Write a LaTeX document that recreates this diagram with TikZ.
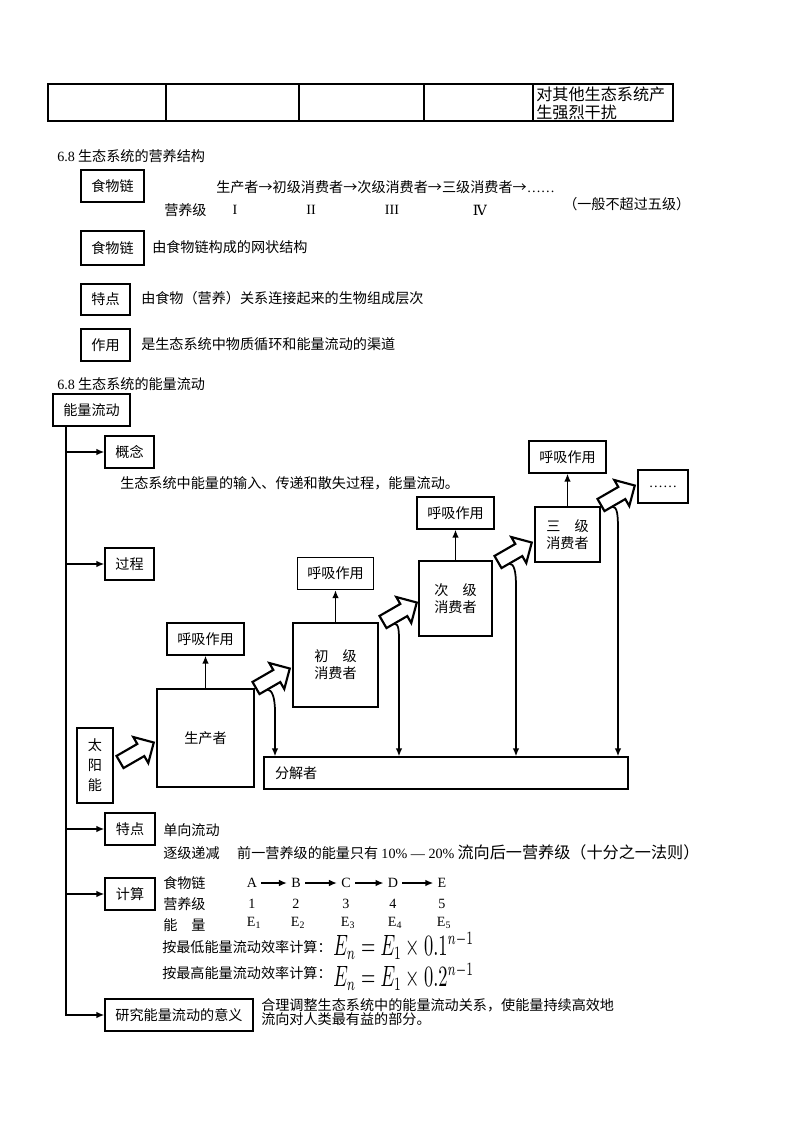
\documentclass[tikz,border=0pt]{standalone}
\usepackage{fontspec}
\usepackage{graphicx}
\setmainfont{Liberation Serif}
\newfontfamily\cjk{Noto Sans CJK SC}
\newfontfamily\dvserif{DejaVu Serif}
\usetikzlibrary{arrows.meta, calc}

\def\px{0.744pt}
\newcommand\hollowarrow[3]{%
  \begin{scope}[shift={(#2,#3)}, rotate=30]
    \draw[line width=1.6pt, fill=white] (0,-7) -- (24,-7) -- (24,-15) -- (39,0) -- (24,15) -- (24,7) -- (0,7) -- cycle;
    \coordinate (#1) at (9,7);
  \end{scope}}

\begin{document}
\begin{tikzpicture}[x=\px, y=-\px,
  every node/.style={font=\cjk\fontsize{10.5}{13}\selectfont, inner sep=0pt},
  box/.style={draw, line width=0.9pt},
  heavybox/.style={draw, line width=2pt, align=center, font=\cjk\fontsize{10.5}{12.7}\selectfont},
  dims/.style 2 args={minimum width=#1*\px, minimum height=#2*\px},
  txt/.style={anchor=west},
  lat/.style={font=\rmfamily\fontsize{10.5}{13}\selectfont},
  arr/.style={-{Latex[length=6pt,width=5pt]}},
  stem/.style={line width=1.3pt}]
\useasboundingbox (0,0) rectangle (800,1132);

\draw[line width=0.9pt] (48,84) rectangle (673,121);
\draw[line width=0.9pt] (166,84) -- (166,121) (299,84) -- (299,121) (424,84) -- (424,121) (533,84) -- (533,121);
\node[txt, align=left, font=\cjk\fontsize{12}{13.4}\selectfont] (cell) at (536,103) {对其他生态系统产\\生强烈干扰};

\node[txt] (head1) at (57,156) {{\rmfamily 6.8} 生态系统的营养结构};
\node[box, dims={63}{32}] (chain) at (112.5,186) {食物链};
\node[txt] (chaintext) at (216,187) {生产者→初级消费者→次级消费者→三级消费者→{\rmfamily ……}};
\node[txt] (levels) at (164,210) {营养级};
\node[lat] (lv1) at (235,210) {I};
\node[lat] (lv2) at (311,210) {II};
\node[lat] (lv3) at (392,210) {III};
\node[font=\dvserif\fontsize{10.5}{13}\selectfont] (lv4) at (480,210) {Ⅳ};
\node[txt] (limit) at (563,204) {（一般不超过五级）};
\node[box, dims={63}{34}] (web) at (112.5,248) {食物链};
\node[txt] (webtext) at (152,247) {由食物链构成的网状结构};
\node[box, dims={49}{31}] (traitA) at (105.5,299.5) {特点};
\node[txt] (traitAtext) at (141,298) {由食物（营养）关系连接起来的生物组成层次};
\node[box, dims={49}{32}] (role) at (105.5,345) {作用};
\node[txt] (roletext) at (141,344) {是生态系统中物质循环和能量流动的渠道};

\node[txt] (head2) at (57,384) {{\rmfamily 6.8} 生态系统的能量流动};
\node[box, dims={77}{32}] (flow) at (91.5,410) {能量流动};
\coordinate (trunk) at (66,426);
\node[box, dims={49}{32}] (concept) at (129.5,452) {概念};
\node[txt] (concepttext) at (120,483) {生态系统中能量的输入、传递和散失过程，能量流动。};
\node[box, dims={49}{32}] (process) at (129.5,564) {过程};
\node[box, dims={50}{32}] (traitB) at (130,829) {特点};
\node[box, dims={50}{32}] (calc) at (130,894) {计算};
\node[box, dims={148}{32}] (meaning) at (179,1015) {研究能量流动的意义};

\draw[stem, arr] (trunk) |- (meaning);
\draw[stem, arr] (trunk |- concept.west) -- (concept);
\draw[stem, arr] (trunk |- process.west) -- (process);
\draw[stem, arr] (trunk |- traitB.west) -- (traitB);
\draw[stem, arr] (trunk |- calc.west) -- (calc);

\node[heavybox, dims={36}{75}, font=\cjk\fontsize{10.5}{14.9}\selectfont] (sun) at (95,765.5) {太\\阳\\能};
\node[heavybox, dims={97}{98}] (prod) at (205.5,738) {生产者};
\node[heavybox, dims={85}{84}] (cons1) at (335.5,665) {初　级\\消费者};
\node[heavybox, dims={73}{75}] (cons2) at (455.5,598.5) {次　级\\消费者};
\node[heavybox, dims={65}{55}] (cons3) at (567.5,534.5) {三　级\\消费者};
\node[heavybox, dims={50}{33}, font=\rmfamily\fontsize{10.5}{13}\selectfont] (more) at (663,486.5) {……};
\node[box, dims={77}{32}] (resp0) at (205.5,639) {呼吸作用};
\node[box, dims={76}{32}] (resp1) at (335.5,573.5) {呼吸作用};
\node[box, dims={77}{32}] (resp2) at (455.5,513) {呼吸作用};
\node[box, dims={77}{32}] (resp3) at (567.5,457) {呼吸作用};
\node[box, dims={364}{32}, align=left, text width=342*\px, inner xsep=11*\px] (decomp) at (446,773) {分解者};

\draw[stem, arr] (prod) -- (resp0);
\draw[stem, arr] (cons1) -- (resp1);
\draw[stem, arr] (cons2) -- (resp2);
\draw[stem, arr] (cons3) -- (resp3);

\hollowarrow{foot1}{120}{762}
\hollowarrow{foot2}{256}{688}
\hollowarrow{foot3}{383}{622}
\hollowarrow{foot4}{498}{562}
\hollowarrow{foot5}{601}{505}

\coordinate (bend2) at (275,712);
\coordinate (bend3) at (399,646);
\coordinate (bend4) at (516,586);
\coordinate (bend5) at (618,529);
\draw[stem, arr] (foot2) .. controls +(5,0) and +(0,-14) .. (bend2) -- (bend2 |- decomp.north);
\draw[stem, arr] (foot3) .. controls +(5,0) and +(0,-14) .. (bend3) -- (bend3 |- decomp.north);
\draw[stem, arr] (foot4) .. controls +(5,0) and +(0,-14) .. (bend4) -- (bend4 |- decomp.north);
\draw[stem, arr] (foot5) .. controls +(5,0) and +(0,-14) .. (bend5) -- (bend5 |- decomp.north);

\node[txt] (oneway) at (163,830) {单向流动};
\node[txt] (decline) at (163,852) {逐级递减\hspace{13pt}前一营养级的能量只有 {\rmfamily 10\% — 20\%} {\fontsize{12}{13}\selectfont 流向后一营养级（十分之一法则）}};

\node[txt] (rowchain) at (163,883) {食物链};
\node[txt] (rowlevel) at (163,904) {营养级};
\node[txt] (rowenergy) at (163,925) {能　量};
\node[lat] (spA) at (252,883) {A};
\node[lat] (spB) at (296,883) {B};
\node[lat] (spC) at (346,883) {C};
\node[lat] (spD) at (393,883) {D};
\node[lat] (spE) at (442,883) {E};
\draw[stem, arr, shorten <=3pt, shorten >=3pt] (spA) -- (spB);
\draw[stem, arr, shorten <=3pt, shorten >=3pt] (spB) -- (spC);
\draw[stem, arr, shorten <=3pt, shorten >=3pt] (spC) -- (spD);
\draw[stem, arr, shorten <=3pt, shorten >=3pt] (spD) -- (spE);
\node[lat] (lvA) at (252,904) {1};
\node[lat] (lvB) at (296,904) {2};
\node[lat] (lvC) at (346,904) {3};
\node[lat] (lvD) at (393,904) {4};
\node[lat] (lvE) at (442,904) {5};
\node[lat] (enA) at (254,923) {E\textsubscript{1}};
\node[lat] (enB) at (298,923) {E\textsubscript{2}};
\node[lat] (enC) at (348,923) {E\textsubscript{3}};
\node[lat] (enD) at (395,923) {E\textsubscript{4}};
\node[lat] (enE) at (444,923) {E\textsubscript{5}};

\node[txt] (lowtext) at (162,947) {按最低能量流动效率计算：};
\node[txt] (hightext) at (162,973) {按最高能量流动效率计算：};
\node[txt] (lowform) at (333,946) {\scalebox{1.25}[2.0]{$E_n = E_1\times 0.1^{n-1}$}};
\node[txt] (highform) at (333,977) {\scalebox{1.25}[2.0]{$E_n = E_1\times 0.2^{n-1}$}};

\node[txt, align=left, font=\cjk\fontsize{10.5}{10.6}\selectfont] (meaningtext) at (261,1012) {合理调整生态系统中的能量流动关系，使能量持续高效地\\流向对人类最有益的部分。};
\end{tikzpicture}
\end{document}
